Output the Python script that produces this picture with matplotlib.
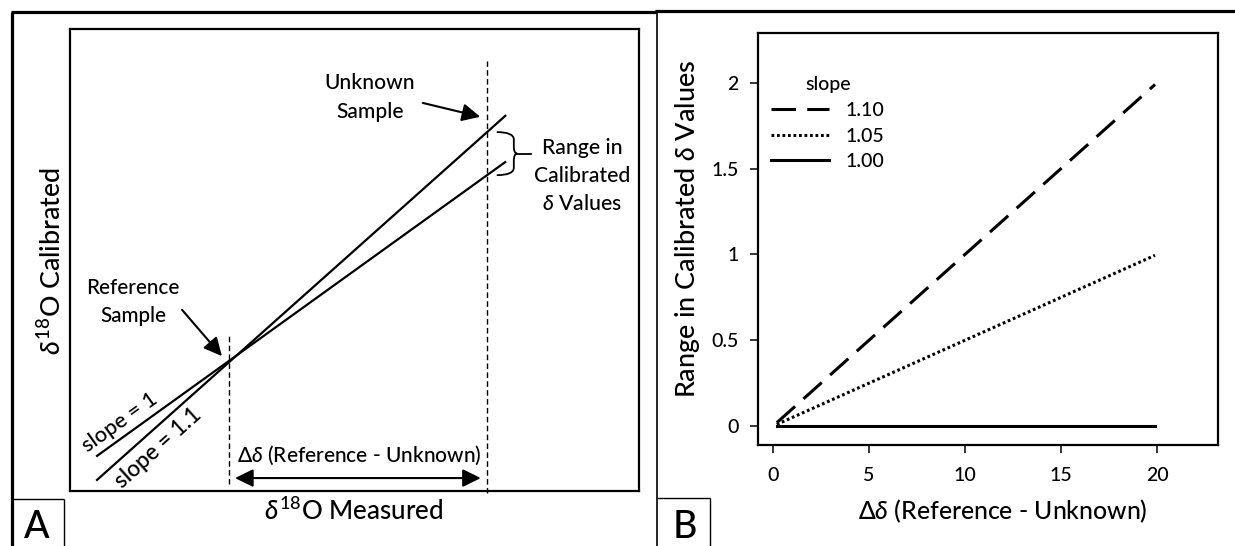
import numpy as np
import matplotlib.pyplot as plt
from matplotlib.lines import Line2D
from matplotlib.patches import PathPatch
from matplotlib.path import Path

plt.rcParams['font.family'] = ['Lato', 'DejaVu Sans']
plt.rcParams['font.weight'] = 'medium'
plt.rcParams['mathtext.fontset'] = 'custom'
plt.rcParams['mathtext.rm'] = 'Lato:medium'
plt.rcParams['mathtext.it'] = 'Lato:italic:medium'
plt.rcParams['mathtext.bf'] = 'Lato:bold'

# Panel A: schematic calibration lines (arbitrary units)
measured = [4.75, 76.5]
calibrated_slope1 = [7.6, 71.2]
calibrated_slope11 = [2.4, 81.2]
ref_measured = 27.9
unknown_measured = 73.3

# Panel B: range in calibrated values vs distance from the reference
delta_ref = [0.2, 19.9]
slope_labels = ['1.10', '1.05', '1.00']
range_110 = [0.02, 1.99]
range_105 = [0.01, 0.995]
range_100 = [0.0, 0.0]

W, H = 1235, 546
fig = plt.figure(figsize=(W / 100, H / 100), dpi=100)
renderer = fig.canvas.get_renderer()


def fx(px):
    return px / W


def fy(py):
    return 1 - py / H


def fig_line(x0, y0, x1, y1, lw):
    fig.add_artist(Line2D([fx(x0), fx(x1)], [fy(y0), fy(y1)], transform=fig.transFigure,
                          color='black', lw=lw, solid_capstyle='butt'))


def fit(t, target, along='w'):
    # scale the font so the text spans about `target` pixels
    bb = t.get_window_extent(renderer)
    cur = bb.width if along == 'w' else bb.height
    t.set_fontsize(t.get_fontsize() * target / cur)


# outer frame and panel label boxes
fig_line(12, 12, 12, 546, 2.3)
fig_line(11, 12, 656, 12, 2.3)
fig_line(655, 11, 1235, 11, 2.3)
fig_line(657, 11, 657, 546, 1.2)
fig_line(12, 499, 64, 499, 1.0)
fig_line(64, 499, 64, 546, 1.0)
fig_line(657, 498, 710, 498, 1.0)
fig_line(710, 498, 710, 546, 1.0)
fig.text(fx(37), fy(528), 'A', fontsize=27, ha='center', va='center')
fig.text(fx(685), fy(528), 'B', fontsize=27, ha='center', va='center')

# ---- Panel A ----
ax = fig.add_axes([fx(70), fy(491), fx(639) - fx(70), fy(29) - fy(491)])
ax.set_xlim(0, 100)
ax.set_ylim(0, 100)
ax.set_xticks([])
ax.set_yticks([])
for sp in ax.spines.values():
    sp.set_linewidth(1.6)

ax.plot(measured, calibrated_slope1, color='black', lw=1.6)
ax.plot(measured, calibrated_slope11, color='black', lw=1.6)
ax.plot([ref_measured, ref_measured], [1.5, 33.8], color='black', lw=1.0,
        dashes=(4, 2.4))
ax.plot([unknown_measured, unknown_measured], [-0.4, 93.1], color='black', lw=1.0,
        dashes=(4, 2.4), clip_on=False)

head = '-|>,head_length=0.55,head_width=0.27'
ax.annotate('', xy=(26.7, 29.2), xytext=(19.7, 39.2),
            arrowprops=dict(arrowstyle=head, mutation_scale=20, lw=1.5, color='black',
                            shrinkA=0, shrinkB=0))
ax.annotate('', xy=(72.1, 81.0), xytext=(62.0, 84.0),
            arrowprops=dict(arrowstyle=head, mutation_scale=20, lw=1.5, color='black',
                            shrinkA=0, shrinkB=0))
ax.annotate('', xy=(72.2, 2.8), xytext=(29.0, 2.8),
            arrowprops=dict(arrowstyle='<|-|>,head_length=0.55,head_width=0.27',
                            mutation_scale=20, lw=1.5, color='black', shrinkA=0, shrinkB=0))

t = ax.text(11.1, 40.9, 'Reference\nSample', fontsize=14.5, ha='center', va='center',
            linespacing=1.55)
fit(t, 93)
t = ax.text(52.7, 85.1, 'Unknown\nSample', fontsize=14.5, ha='center', va='center',
            linespacing=1.55)
fit(t, 90)
t = ax.text(29.3, 7.8, r'$\Delta\delta$ (Reference - Unknown)', fontsize=14.5,
            ha='left', va='center')
fit(t, 245)
t = ax.text(90.0, 68.2, 'Range in\nCalibrated\n' + r'$\delta$ Values', fontsize=14.5,
            ha='center', va='center', linespacing=1.5)
fit(t, 96)
t = ax.text(8.8, 14.9, 'slope = 1', fontsize=14, rotation_mode='anchor',
            ha='center', va='center')
fit(t, 88)
t.set_rotation(35.5)
t = ax.text(15.5, 9.3, 'slope = 1.1', fontsize=14, rotation_mode='anchor',
            ha='center', va='center')
fit(t, 109)
t.set_rotation(42)

# curly brace spanning the two calibrated values at the unknown sample
y_top = np.interp(unknown_measured, measured, calibrated_slope11)
y_bot = np.interp(unknown_measured, measured, calibrated_slope1)
y_mid = (y_top + y_bot) / 2
x0, x1, xm, xt = 75.0, 78.0, 78.6, 81.0
r = 1.6
verts = [(x0, y_top), (x1, y_top), (x1, y_top - r),
         (x1, y_mid + r),
         (x1, y_mid), (xm, y_mid),
         (x1, y_mid), (x1, y_mid - r),
         (x1, y_bot + r),
         (x1, y_bot), (x0, y_bot)]
codes = [Path.MOVETO, Path.CURVE3, Path.CURVE3, Path.LINETO,
         Path.CURVE3, Path.CURVE3, Path.CURVE3, Path.CURVE3,
         Path.LINETO, Path.CURVE3, Path.CURVE3]
ax.add_patch(PathPatch(Path(verts, codes), fill=False, lw=1.3, color='black'))
ax.plot([xm, xt], [y_mid, y_mid], color='black', lw=1.3)

t = fig.text(fx(52), fy(261), r'$\delta^{\mathrm{18}}$O Calibrated', fontsize=17,
             rotation=90, ha='center', va='center')
fit(t, 188, 'h')
t = fig.text(fx(354), fy(511), r'$\delta^{\mathrm{18}}$O Measured', fontsize=17,
             ha='center', va='center')
fit(t, 180)

# ---- Panel B ----
bx = fig.add_axes([fx(758), fy(445), fx(1218) - fx(758), fy(33) - fy(445)])
bx.plot(delta_ref, range_110, color='black', lw=2.2, dashes=(8, 3.7), label=slope_labels[0])
bx.plot(delta_ref, range_105, color='black', lw=2.2, dashes=(0.9, 0.9), label=slope_labels[1])
bx.plot(delta_ref, range_100, color='black', lw=2.2, label=slope_labels[2])
bx.set_xlim(-0.78, 23.18)
bx.set_ylim(-0.11, 2.29)
bx.set_xticks([0, 5, 10, 15, 20])
bx.set_yticks([0, 0.5, 1, 1.5, 2])
bx.set_yticklabels(['0', '0.5', '1', '1.5', '2'])
bx.tick_params(direction='out', length=6, width=1.1, labelsize=14, pad=8)
bx.tick_params(axis='x', pad=10)
for sp in bx.spines.values():
    sp.set_linewidth(1.6)

bx.legend(title='slope', loc='upper left', bbox_to_anchor=(fx(771), fy(76)),
          bbox_transform=fig.transFigure, frameon=False, fontsize=14,
          title_fontsize=14, handlelength=3.0, handletextpad=0.85, labelspacing=0.45,
          borderpad=0, borderaxespad=0)

t = fig.text(fx(687), fy(229), r'Range in Calibrated $\delta$ Values', fontsize=17,
             rotation=90, ha='center', va='center')
fit(t, 338, 'h')
t = fig.text(fx(1003), fy(511), r'$\Delta\delta$ (Reference - Unknown)', fontsize=17,
             ha='center', va='center')
fit(t, 290)

fig.savefig('out.png', dpi=100)
